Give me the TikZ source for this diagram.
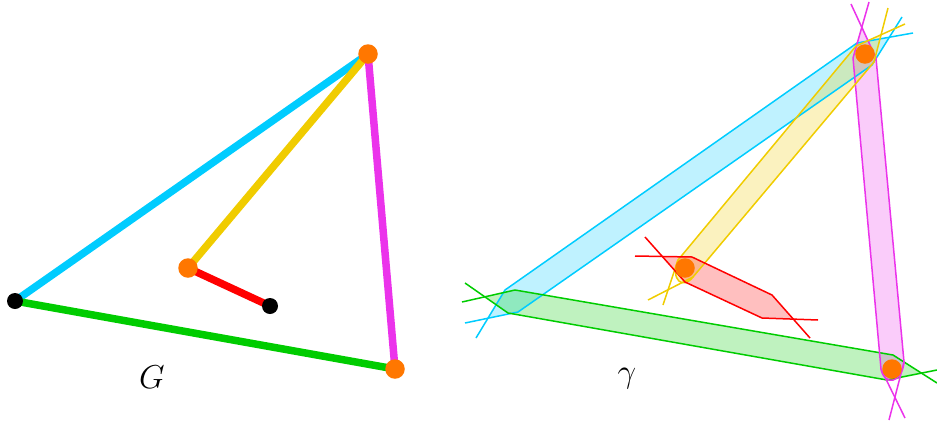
\documentclass[tikz,border=0pt]{standalone}
\usepackage{graphicx}
\usepackage{tikz}
\definecolor{vblue}{RGB}{0,204,255}
\definecolor{vyellow}{RGB}{240,204,0}
\definecolor{vmag}{RGB}{235,51,235}
\definecolor{vgreen}{RGB}{0,204,0}
\definecolor{vred}{RGB}{255,0,0}
\definecolor{vorange}{RGB}{255,119,0}
\tikzset{
  gedge/.style={line width=7.5pt},
  odot/.style={circle,fill=vorange,inner sep=0pt,minimum size=19.5pt},
  bdot/.style={circle,fill=black,inner sep=0pt,minimum size=16pt},
  bandfill/.style={fill=#1,fill opacity=0.25,draw=none},
  bandline/.style={draw=#1,line width=1.5pt,line join=round},
  lbl/.style={font=\Huge}
}
\begin{document}
\begin{tikzpicture}[x=1pt,y=-1pt]
\useasboundingbox (0,0) rectangle (937,424);
% ---------- left graph G ----------
\coordinate (A) at (15,301);
\coordinate (T) at (368,54);
\coordinate (M) at (188,268);
\coordinate (B) at (270,306);
\coordinate (C) at (395,369);
\draw[gedge,vblue] (A) -- (T);
\draw[gedge,vyellow] (M) -- (T);
\draw[gedge,vmag] (T) -- (C);
\draw[gedge,vgreen] (A) -- (C);
\draw[gedge,vred] (M) -- (B);
\node[bdot] (dA) at (A) {};
\node[bdot] (dB) at (B) {};
\node[odot] (dT) at (T) {};
\node[odot] (dM) at (M) {};
\node[odot] (dC) at (C) {};
\node[lbl] (lG) at (152,377) {\scalebox{1.33}{$G$}};
% ---------- right picture gamma ----------
% fills
\path[bandfill=vblue] (505,290) -- (857,43) -- (889,37) -- (872,65) -- (518,312) -- (488,318) -- cycle;
\path[bandfill=vgreen] (515,290) -- (893,355) -- (920,373) -- (887,380) -- (508,313) -- (485,297) -- cycle;
\path[bandfill=vmag] (853,58) -- (862,25) -- (876,58) -- (904,362) .. controls (902,384) and (884,386) .. (881,369) -- cycle;
\path[bandfill=vyellow] (856,46) -- (881,35) -- (874,62) -- (693,277) .. controls (683,290) and (670,280) .. (678,260) -- cycle;
\path[bandfill=vred] (692,257) -- (772,295) -- (793,319) -- (762,318) -- (685,282) -- (662,256) -- cycle;
% outlines
\draw[bandline=vblue] (476,338) -- (505,290) -- (857,43) -- (913,33);
\draw[bandline=vblue] (465,323) -- (518,312) -- (872,65) -- (902,17);
\draw[bandline=vgreen] (462,302) -- (515,290) -- (893,355) -- (937,383);
\draw[bandline=vgreen] (465,283) -- (508,313) -- (887,380) -- (937,370);
\draw[bandline=vmag] (869,2) -- (853,58) -- (881,369) -- (905,418);
\draw[bandline=vmag] (851,4) -- (876,58) -- (904,362) -- (889,420);
\draw[bandline=vmag] (904,362) .. controls (902,384) and (884,386) .. (881,369);
\draw[bandline=vyellow] (905,24) -- (856,46) -- (678,260) -- (663,305);
\draw[bandline=vyellow] (888,8) -- (874,62) -- (693,277) -- (648,300);
\draw[bandline=vyellow] (693,277) .. controls (683,290) and (670,280) .. (678,260);
\draw[bandline=vred] (635,256) -- (692,257) -- (772,295) -- (810,338);
\draw[bandline=vred] (645,237) -- (685,282) -- (762,318) -- (818,320);
\node[odot] (gT) at (865,54) {};
\node[odot] (gM) at (685,268) {};
\node[odot] (gC) at (892,369) {};
\node[lbl] (lg) at (627,379) {\scalebox{1.33}{$\gamma$}};
\end{tikzpicture}
\end{document}
